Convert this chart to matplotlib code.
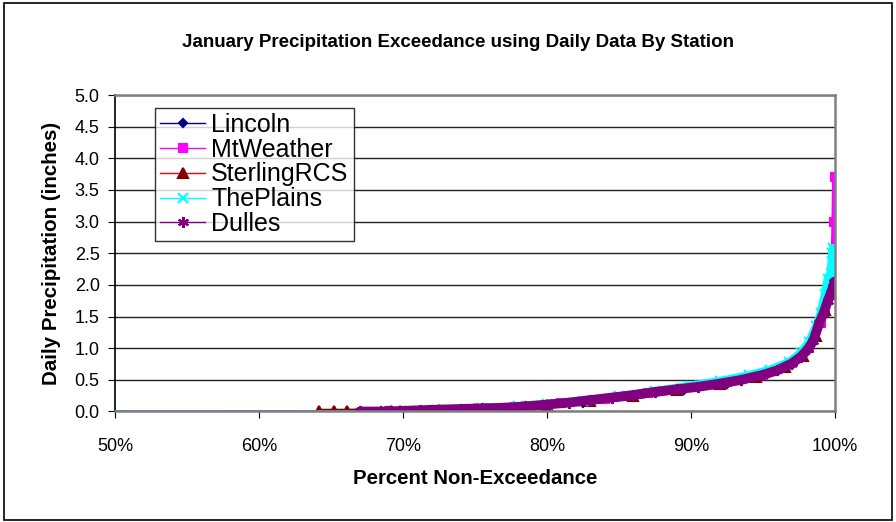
import matplotlib.pyplot as plt
from matplotlib.ticker import PercentFormatter, MultipleLocator
from matplotlib.patches import Rectangle

plt.rcParams['font.family'] = ['Liberation Sans', 'DejaVu Sans']

# percent non-exceedance (%) and daily precipitation (inches)
lincoln_pct = [0, 68.5, 72.0, 75.5, 79.0, 82.5, 86.0, 89.5, 92.5, 95.0, 97.0,
               98.2, 99.0, 99.5, 99.8, 99.93]
lincoln_in = [0, 0.01, 0.02, 0.04, 0.08, 0.14, 0.23, 0.34, 0.44, 0.57, 0.74,
              0.98, 1.38, 1.75, 2.00, 2.20]

mtweather_pct = [0, 69.0, 72.0, 75.0, 78.0, 81.0, 84.0, 87.0, 90.0, 92.5, 95.0,
                 97.0, 98.2, 99.0, 99.5, 99.75, 99.88, 99.94, 99.98]
mtweather_in = [0, 0.01, 0.02, 0.045, 0.075, 0.13, 0.20, 0.29, 0.38, 0.46, 0.58,
                0.76, 1.00, 1.40, 1.78, 2.05, 2.39, 2.99, 3.70]

sterling_pct = [0, 64.2, 65.2, 66.1, 69.2, 69.8, 72.5, 75.0, 77.5, 80.0, 83.0,
                86.0, 89.0, 92.0, 94.5, 96.5, 97.8, 98.7, 99.3, 99.7, 99.9]
sterling_in = [0, 0.00, 0.00, 0.00, 0.01, 0.01, 0.02, 0.04, 0.06, 0.10, 0.17,
               0.25, 0.34, 0.44, 0.55, 0.70, 0.88, 1.20, 1.60, 1.85, 2.00]

plains_pct = [0, 70.5, 73.0, 75.5, 78.0, 80.0, 82.5, 85.0, 87.5, 90.0, 92.0,
              94.0, 95.5, 96.8, 97.6, 98.2, 98.7, 99.0, 99.3, 99.5, 99.7,
              99.8, 99.85]
plains_in = [0, 0.01, 0.03, 0.05, 0.08, 0.12, 0.17, 0.24, 0.32, 0.41, 0.48,
             0.57, 0.66, 0.78, 0.92, 1.10, 1.35, 1.55, 1.85, 2.10, 2.19,
             2.50, 2.58]

dulles_pct = [0, 67.0, 68.9, 70.0, 71.2, 72.5, 74.0, 75.5, 77.0, 78.5, 80.0,
              81.5, 83.0, 84.5, 86.0, 87.5, 89.0, 90.5, 92.0, 93.5, 95.0,
              96.0, 97.0, 97.6, 98.1, 98.5, 98.9, 99.2, 99.5, 99.7, 99.85, 99.95]
dulles_in = [0, 0.00, 0.00, 0.01, 0.02, 0.03, 0.04, 0.05, 0.06, 0.08, 0.11,
             0.14, 0.18, 0.22, 0.26, 0.31, 0.35, 0.39, 0.44, 0.50, 0.58,
             0.65, 0.76, 0.86, 0.98, 1.12, 1.40, 1.55, 1.75, 1.87, 1.96, 2.05]

series = [
    ('Lincoln', lincoln_pct, lincoln_in, '#000080', '#000080', 'D', 4, 4),
    ('MtWeather', mtweather_pct, mtweather_in, '#FF00FF', '#FF00FF', 's', 6, 4),
    ('SterlingRCS', sterling_pct, sterling_in, '#FF0000', '#800000', '^', 7, 4),
    ('ThePlains', plains_pct, plains_in, '#00FFFF', '#00FFFF', 'x', 7, 6),
    ('Dulles', dulles_pct, dulles_in, '#800080', '#800080', (6, 2, 0), 8, 7),
]

fig = plt.figure(figsize=(8.96, 5.22), dpi=100)
ax = fig.add_axes([0.1283, 0.2117, 0.8037, 0.6063])

for name, x, y, lc, mc, mk, ms, band in series:
    ax.plot(x, y, color=lc, lw=1, marker=mk, markersize=ms, markerfacecolor=mc,
            markeredgecolor=mc, markeredgewidth=1.5, label=name)
    # dense markers in the original form a thick band
    ax.plot(x[1:], y[1:], color=mc, lw=band, solid_capstyle='round', zorder=2)

ax.set_xlim(50, 100)
ax.set_ylim(0, 5)
ax.xaxis.set_major_locator(MultipleLocator(10))
ax.xaxis.set_major_formatter(PercentFormatter(100, decimals=0))
ax.yaxis.set_major_locator(MultipleLocator(0.5))
ax.yaxis.set_major_formatter('{x:.1f}')
ax.grid(axis='y', color='#202020', lw=1)
ax.set_axisbelow(True)

for s in ['top', 'right', 'bottom']:
    ax.spines[s].set_color('#808080')
    ax.spines[s].set_linewidth(1.8)
ax.spines['left'].set_color('black')
ax.spines['left'].set_linewidth(1.2)
ax.tick_params(axis='both', direction='out', length=5, labelsize=13, pad=6)
ax.tick_params(axis='x', pad=14)

ax.set_xlabel('Percent Non-Exceedance', fontsize=14.7, fontweight='bold', labelpad=10)
ax.set_ylabel('Daily Precipitation (inches)', fontsize=14.8, fontweight='bold', labelpad=10)
fig.text(0.511, 0.918, 'January Precipitation Exceedance using Daily Data By Station',
         ha='center', va='center', fontsize=13.5, fontweight='bold')

leg = ax.legend(loc='upper left', bbox_to_anchor=(155 / 896, 1 - 108 / 522),
                bbox_transform=fig.transFigure, fontsize=18, frameon=True,
                fancybox=False, borderaxespad=0, labelspacing=0.03,
                handlelength=1.8, handletextpad=0.25, borderpad=0.2)
leg.get_frame().set_edgecolor('black')
leg.get_frame().set_linewidth(1)

fig.patches.append(Rectangle((0.004, 0.004), 0.992, 0.99, transform=fig.transFigure,
                             fill=False, edgecolor='black', lw=1.2))

fig.savefig('out.png', dpi=100)
